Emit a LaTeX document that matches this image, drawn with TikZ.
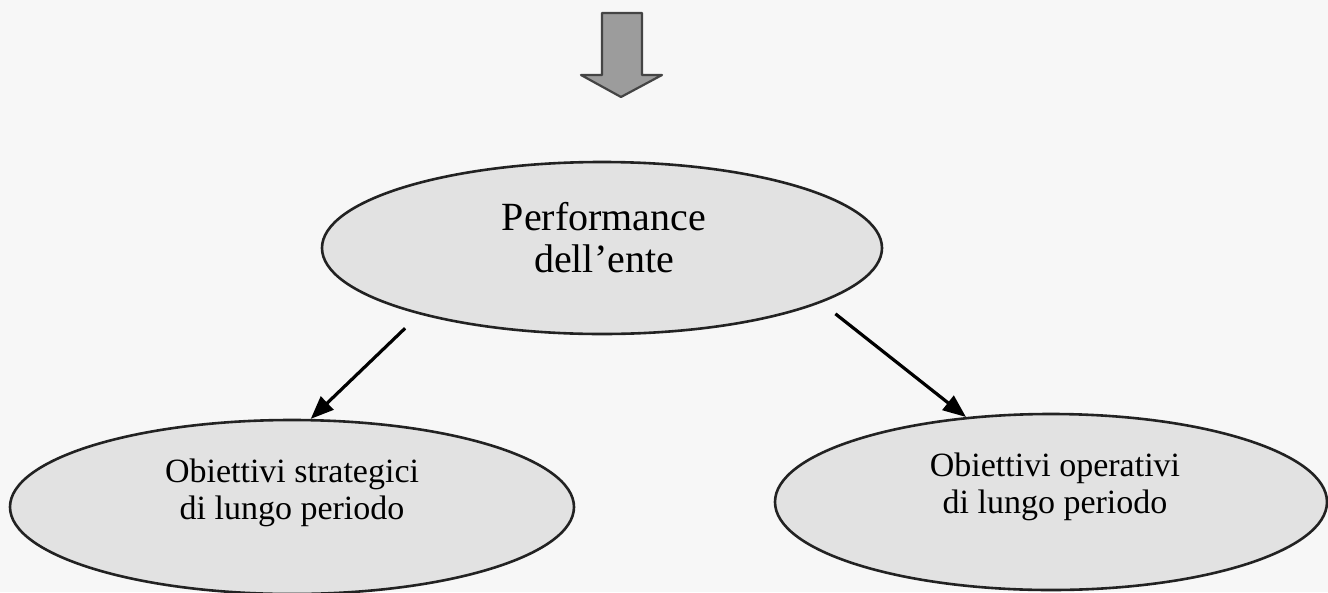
\documentclass[tikz,border=0pt]{standalone}
\usepackage{fontspec}
\setmainfont{Liberation Serif}
\usetikzlibrary{arrows.meta,shapes.geometric}
\definecolor{bg}{HTML}{F7F7F7}
\definecolor{ellfill}{HTML}{E2E2E2}
\definecolor{edgecol}{HTML}{222222}
\definecolor{bigfill}{HTML}{9C9C9C}
\definecolor{bigedge}{HTML}{444444}
\begin{document}
\begin{tikzpicture}[x=1pt,y=-1pt,
  ell/.style={ellipse, draw=edgecol, line width=2.6pt, fill=ellfill, inner sep=0pt},
  toplbl/.style={align=center, text=black, inner sep=0pt, font=\fontsize{40}{42}\selectfont},
  lowlbl/.style={align=center, text=black, inner sep=0pt, font=\fontsize{34}{37}\selectfont},
  arr/.style={-{Triangle[length=23pt,width=18pt]}, line width=3.2pt, draw=black},
  bigarrow/.style={fill=bigfill, draw=bigedge, line width=2.2pt, line join=round}
]
\fill[bg] (0,0) rectangle (1328,592);
\useasboundingbox (0,0) rectangle (1328,592);
\clip (0,0) rectangle (1328,592);

% incoming block arrow
\filldraw[bigarrow] (602,13) -- (642,13) -- (642,75) -- (662,75) -- (621,97) -- (581,75) -- (602,75) -- cycle;

% ellipses
\node[ell, minimum width=560pt, minimum height=172pt] (top) at (602,248) {};
\node[ell, minimum width=564pt, minimum height=174pt] (left) at (292,507) {};
\node[ell, minimum width=552pt, minimum height=176pt] (right) at (1051,502) {};

% texts
\node[toplbl] (toptext) at (604,238) {Performance\\dell'ente};
\node[lowlbl] (lefttext) at (292,492.5) {Obiettivi strategici\\di lungo periodo};
\node[lowlbl] (righttext) at (1055,486.5) {Obiettivi operativi\\di lungo periodo};

% connectors
\draw[arr, shorten <=20pt] (top.200) -- (left.78);
\draw[arr, shorten <=18pt] (top.346) -- (right.135);
\end{tikzpicture}
\end{document}
